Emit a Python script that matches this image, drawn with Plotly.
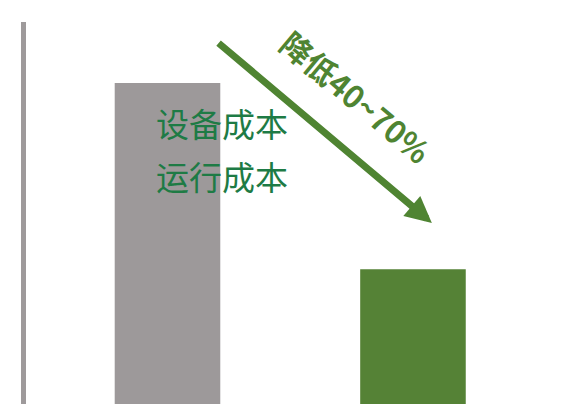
import plotly.graph_objects as go

# 成本对比
categories = ['传统方案', '新方案']
values = [84, 35.3]
bar_colors = ['#9d999a', '#558236']
cost_labels = ['设备成本', '运行成本']
arrow_label = '降低40~70%'

fig = go.Figure()

fig.add_trace(go.Bar(
    x=categories,
    y=values,
    width=0.43,
    marker=dict(color=bar_colors, line=dict(width=0)),
    showlegend=False,
    hoverinfo='skip'
))

# 柱内文字
fig.add_annotation(x=0, y=73.5, xref='x', yref='y', text=cost_labels[0],
                   showarrow=False, xshift=55,
                   font=dict(size=33, color='#1e7b45', family='Noto Sans CJK SC'))
fig.add_annotation(x=0, y=59.8, xref='x', yref='y', text=cost_labels[1],
                   showarrow=False, xshift=55,
                   font=dict(size=33, color='#1e7b45', family='Noto Sans CJK SC'))

# 下降箭头
fig.add_annotation(x=1.077, y=47.4, xref='x', yref='y',
                   ax=0.202, ay=94.8, axref='x', ayref='y',
                   text='', showarrow=True, arrowhead=2, arrowsize=0.75,
                   arrowwidth=7, arrowcolor='#4f8432')
fig.add_annotation(x=0.77, y=80.6, xref='x', yref='y', text='<b>' + arrow_label + '</b>',
                   showarrow=False, textangle=40,
                   font=dict(size=31, color='#4f8432', family='Noto Sans CJK SC'))

# 页面自带 8px 边距，这里相应收缩
fig.update_layout(
    width=574, height=404,
    margin=dict(l=18, r=8, t=14, b=8),
    paper_bgcolor='white', plot_bgcolor='white',
    xaxis=dict(range=[-0.5764, 1.656], showticklabels=False, showgrid=False,
               zeroline=False, showline=False),
    yaxis=dict(range=[0, 100], showticklabels=False, showgrid=False,
               zeroline=False, showline=True, linecolor='#9e9a9b', linewidth=5),
)

fig.write_html('out.html')
